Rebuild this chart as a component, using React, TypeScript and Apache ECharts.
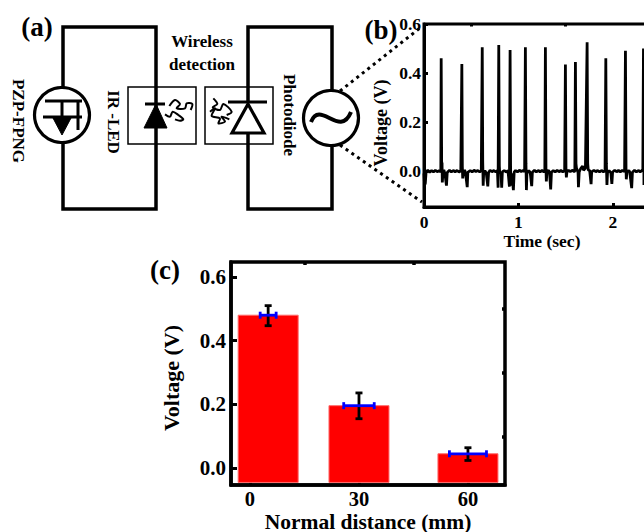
import React, { useEffect, useRef } from "react";
import * as echarts from "echarts";

const FONT = '"Liberation Serif", "Times New Roman", serif';

// Panel (b): time (s), voltage (V)
const voltageTrace: [number, number][] = [
  [0,-0.01],[0.006,-0.058],[0.014,-0.05],[0.022,-0.004],[0.04,0.003],[0.06,-0.005],[0.08,0.002],[0.1,-0.004],[0.12,0.003],[0.14,-0.003],[0.16,0.001],[0.178,-0.004],
  [0.182,0.46],[0.187,0.03],[0.191,0.035],[0.194,-0.047],[0.2,-0.01],[0.21,0.005],[0.222,-0.012],[0.238,-0.06],[0.246,-0.006],[0.27,0.003],[0.29,-0.004],[0.31,0.002],[0.33,-0.003],[0.35,0.002],[0.37,-0.004],[0.39,0.001],
  [0.401,0.437],[0.406,0.02],[0.41,-0.03],[0.416,-0.005],[0.43,0.004],[0.44,-0.008],[0.458,-0.066],[0.464,-0.006],[0.49,0.002],[0.51,-0.004],[0.53,0.003],[0.55,-0.002],[0.57,0.002],[0.59,-0.004],[0.607,0.001],
  [0.617,0.505],[0.622,0.04],[0.627,-0.06],[0.632,-0.008],[0.645,0.002],[0.66,-0.01],[0.676,-0.063],[0.684,-0.006],[0.7,0.003],[0.72,-0.003],[0.74,0.002],[0.76,-0.004],[0.778,0.001],[0.785,-0.068],
  [0.792,0.514],[0.798,0.02],[0.802,-0.01],[0.815,-0.003],[0.823,-0.068],[0.83,-0.004],[0.85,0.002],[0.87,-0.004],[0.89,0.001],[0.905,-0.064],
  [0.912,0.494],[0.918,-0.06],[0.93,-0.01],[0.947,-0.078],[0.955,-0.005],[0.97,0.002],[0.99,-0.004],[1.01,0.003],[1.03,-0.002],[1.05,0.002],[1.066,-0.003],
  [1.074,0.505],[1.08,0.03],[1.085,-0.078],[1.09,-0.01],[1.11,0.002],[1.125,-0.006],[1.141,-0.062],[1.148,-0.005],[1.17,0.003],[1.19,-0.004],[1.21,0.002],[1.23,-0.003],[1.25,0.002],[1.27,-0.003],[1.28,0],
  [1.286,0.505],[1.292,0.01],[1.296,-0.043],[1.302,-0.005],[1.32,0.003],[1.33,-0.006],[1.342,-0.075],[1.35,-0.005],[1.37,0.002],[1.39,-0.004],[1.41,0.003],[1.43,-0.003],[1.45,0.002],[1.47,-0.003],[1.49,0.001],
  [1.498,0.435],[1.504,0.01],[1.508,-0.026],[1.514,-0.004],[1.53,0.003],[1.55,-0.003],[1.57,0.003],[1.59,-0.002],[1.598,0],
  [1.604,0.445],[1.61,0.03],[1.615,0.012],[1.625,0.002],[1.632,-0.006],[1.636,-0.066],[1.644,-0.004],[1.66,0.01],[1.68,0.02],[1.69,0.003],[1.71,0.012],
  [1.728,0.525],[1.734,0.03],[1.74,0.004],[1.755,0.002],[1.77,-0.054],[1.776,-0.004],[1.8,0.003],[1.82,-0.003],[1.84,0.002],[1.86,-0.004],[1.88,0.002],[1.9,-0.003],[1.918,0.001],
  [1.926,0.46],[1.932,0.03],[1.938,-0.057],[1.944,-0.006],[1.96,0.002],[1.98,-0.008],[1.99,-0.053],[1.998,-0.004],[2.02,0.003],[2.04,-0.003],[2.06,0.002],[2.08,-0.003],[2.1,0.002],[2.125,-0.002],
  [2.134,0.491],[2.14,0.01],[2.143,-0.034],[2.15,-0.004],[2.17,0.002],[2.18,-0.005],[2.2,-0.07],[2.208,-0.005],[2.23,0.003],[2.25,-0.004],[2.27,0.002],[2.29,-0.003],[2.31,0.002],[2.318,-0.002],
  [2.325,0.5],[2.33,-0.057],[2.34,-0.003],[2.37,0.002],[2.4,-0.003],
];
const timeTicks = [0, 1, 2];
const timeMinorTicks = [0.5, 1.5];
const panelBVoltageTicks = [0, 0.2, 0.4, 0.6];
const panelBVoltageMinorTicks = [-0.1, 0.1, 0.3, 0.5];

// Panel (c)
const barPositions = [5, 30, 60];
const barVoltages = [0.48, 0.196, 0.045];
const voltageLow = [0.447, 0.155, 0.024];
const voltageHigh = [0.51, 0.236, 0.064];
const distanceError = [2.2, 4.2, 5.1];
const distanceTicks = [0, 30, 60];
const distanceMinorTicks = [15, 45];
const panelCVoltageTicks = [0, 0.2, 0.4, 0.6];
const panelCVoltageMinorTicks = [0.1, 0.3, 0.5];

const AX = (extra: any) => ({ ...extra });

export default function App() {
  const ref = useRef<HTMLDivElement>(null);
  useEffect(() => {
    const chart = echarts.init(ref.current!, undefined, { renderer: "svg" });
    const textStyle = (size: number) => ({ fontFamily: FONT, fontWeight: "bold", fontSize: size, color: "#000" });
    const mainTick = (vals: number[], len: number, w: number) => ({ show: true, inside: true, length: len, customValues: vals, lineStyle: { color: "#000", width: w } });
    const line = (x1: number, y1: number, x2: number, y2: number, w = 3.5, extra: any = {}) => ({ type: "line", shape: { x1, y1, x2, y2 }, style: { stroke: "#000", lineWidth: w, ...extra } });
    const gText = (text: string, x: number, y: number, size: number, rot = 0) => ({
      type: "text", x, y, rotation: rot, z: 10,
      style: { text, x: 0, y: 0, align: "center", verticalAlign: "middle", fontFamily: FONT, fontWeight: "bold", fontSize: size, fill: "#000" },
    });
    const poly = (points: number[][], w: number, close = false, fill: any = "none") => ({
      type: close ? "polygon" : "polyline", shape: { points }, style: { stroke: "#000", lineWidth: w, fill, lineJoin: "miter" },
    });
    const wave = (pts: number[][]) => ({
      type: "polyline",
      shape: { points: pts.map(([x, y]) => [130 + x / 3, 80 + y / 3]), smooth: 0.3 },
      style: { stroke: "#000", lineWidth: 2, fill: "none" },
    });

    const graphic = [
      // Left loop
      poly([[63, 87], [63, 27], [156, 27], [156, 209], [63, 209], [63, 143]], 3.5),
      // PZP source
      { type: "circle", shape: { cx: 62, cy: 115, r: 27.5 }, style: { stroke: "#000", lineWidth: 3.2, fill: "#fff" } },
      line(45, 101, 82, 101, 3),
      line(43, 117, 82, 117, 3),
      line(62, 101, 62, 120, 3),
      line(78, 101, 78, 130, 3),
      poly([[53, 118], [71, 118], [62, 135]], 1, true, "#000"),
      // LED box
      { type: "rect", shape: { x: 128, y: 87, width: 68, height: 57 }, style: { stroke: "#000", lineWidth: 1.5, fill: "none" } },
      line(145, 104, 165, 104, 3),
      poly([[156, 104], [144, 128], [167, 128]], 1, true, "#000"),
      wave([[118, 78], [135, 60], [150, 72], [140, 85], [165, 85], [170, 70], [187, 72], [182, 90]]),
      wave([[105, 103], [120, 110], [128, 95], [145, 105], [160, 118], [150, 122], [135, 118]]),
      // Right loop
      poly([[248, 102], [248, 27], [332, 27], [332, 91]], 3.5),
      poly([[248, 133], [248, 209], [332, 209], [332, 145]], 3.5),
      { type: "rect", shape: { x: 205, y: 87, width: 68, height: 57 }, style: { stroke: "#000", lineWidth: 1.5, fill: "none" } },
      line(228, 102, 267, 102, 3.2),
      poly([[248, 104], [232, 133], [264, 133]], 3.2, true),
      wave([[250, 55], [262, 72], [248, 82], [270, 90], [280, 72], [305, 95], [290, 105]]),
      wave([[240, 95], [255, 85], [245, 108], [270, 115], [265, 130], [285, 125], [275, 110], [298, 118]]),
      // AC source
      { type: "circle", shape: { cx: 331, cy: 118, r: 27.5 }, style: { stroke: "#000", lineWidth: 3.2, fill: "#fff" } },
      { type: "bezierCurve", shape: { x1: 311, y1: 122, cpx1: 320, cpy1: 99, cpx2: 340, cpy2: 139, x2: 351, y2: 112 }, style: { stroke: "#000", lineWidth: 4, fill: "none" } },
      // Zoom lines
      line(340, 91, 420, 28, 3, { lineDash: [3, 4] }),
      line(340, 145, 422, 202, 3, { lineDash: [3, 4] }),
      // Texts
      gText("(a)", 37, 27, 27),
      gText("(b)", 381, 30, 27),
      gText("(c)", 165, 270, 27),
      gText("Wireless", 202, 41, 17),
      gText("detection", 202, 64, 17),
      gText("PZP-FPNG", 18, 121, 17, -Math.PI / 2),
      gText("IR -LED", 113, 122, 17, -Math.PI / 2),
      gText("Photodiode", 289, 115, 17, -Math.PI / 2),
    ];

    const hiddenLine = { show: false, onZero: false };

    chart.setOption({
      animation: false,
      backgroundColor: "#fff",
      grid: [
        { left: 424, top: 24, width: 236, height: 183, show: true, borderColor: "#000", borderWidth: 3, backgroundColor: "transparent", outerBoundsMode: "none", containLabel: false },
        { left: 231, top: 262, width: 274, height: 223, show: true, borderColor: "#000", borderWidth: 3.5, backgroundColor: "transparent", outerBoundsMode: "none", containLabel: false },
      ],
      xAxis: [
        AX({ type: "value", gridIndex: 0, min: 0, max: 2.5, splitLine: { show: false },
          axisLine: { show: true, onZero: false, lineStyle: { color: "#000", width: 3 } },
          axisTick: mainTick(timeTicks, 4, 3),
          axisLabel: { ...textStyle(17.5), margin: 6, customValues: timeTicks, hideOverlap: false },
          name: "Time (sec)", nameLocation: "middle", nameGap: 25, nameMoveOverlap: false, nameTextStyle: textStyle(17.5) }),
        AX({ type: "value", gridIndex: 0, min: 0, max: 2.5, splitLine: { show: false }, axisLine: hiddenLine, axisLabel: { show: false },
          axisTick: mainTick(timeMinorTicks, 2.5, 3) }),
        AX({ type: "value", gridIndex: 1, min: -5.23, max: 70.2, splitLine: { show: false },
          axisLine: { show: true, onZero: false, lineStyle: { color: "#000", width: 3.5 } },
          axisTick: mainTick(distanceTicks, 6, 3),
          axisLabel: { ...textStyle(20.5), margin: 3, customValues: distanceTicks },
          name: "Normal distance (mm)", nameLocation: "middle", nameGap: 25.5, nameMoveOverlap: false, nameTextStyle: textStyle(21.5) }),
        AX({ type: "value", gridIndex: 1, min: -5.23, max: 70.2, splitLine: { show: false }, axisLine: hiddenLine, axisLabel: { show: false },
          axisTick: mainTick(distanceMinorTicks, 3, 3.5) }),
      ],
      yAxis: [
        AX({ type: "value", gridIndex: 0, min: -0.147, max: 0.6, splitLine: { show: false },
          axisLine: { show: true, onZero: false, lineStyle: { color: "#000", width: 3 } },
          axisTick: mainTick(panelBVoltageTicks, 4, 3),
          axisLabel: { ...textStyle(17.5), margin: 3, customValues: panelBVoltageTicks, formatter: (v: number) => v.toFixed(1) },
          name: "Voltage (V)", nameLocation: "middle", nameGap: 34, nameMoveOverlap: false, nameTextStyle: { ...textStyle(18), padding: [0, 0, 0, -15] } }),
        AX({ type: "value", gridIndex: 0, min: -0.147, max: 0.6, splitLine: { show: false }, axisLine: hiddenLine, axisLabel: { show: false },
          axisTick: mainTick(panelBVoltageMinorTicks, 2.5, 3) }),
        AX({ type: "value", gridIndex: 1, min: -0.053, max: 0.647, splitLine: { show: false },
          axisLine: { show: true, onZero: false, lineStyle: { color: "#000", width: 3.5 } },
          axisTick: mainTick(panelCVoltageTicks, 6, 3),
          axisLabel: { ...textStyle(21), margin: 5, customValues: panelCVoltageTicks, formatter: (v: number) => v.toFixed(1) },
          name: "Voltage (V)", nameLocation: "middle", nameGap: 49, nameMoveOverlap: false, nameTextStyle: { ...textStyle(22), padding: [0, 0, 0, -9] } }),
        AX({ type: "value", gridIndex: 1, min: -0.053, max: 0.647, splitLine: { show: false }, axisLine: hiddenLine, axisLabel: { show: false },
          axisTick: mainTick(panelCVoltageMinorTicks, 3, 3.5) }),
      ],
      series: [
        {
          type: "line", xAxisIndex: 0, yAxisIndex: 0, data: voltageTrace, showSymbol: false, symbol: "none",
          lineStyle: { color: "#000", width: 2.8, join: "bevel" }, clip: true, silent: true,
        },
        {
          type: "custom", xAxisIndex: 2, yAxisIndex: 2, silent: true,
          data: barPositions.map((p, i) => [p, barVoltages[i]]),
          renderItem: (_: any, api: any) => {
            const top = api.coord([api.value(0), api.value(1)]);
            const base = api.coord([api.value(0), -0.045]);
            return { type: "rect", shape: { x: top[0] - 30, y: top[1], width: 60, height: base[1] - top[1] }, style: { fill: "#ff0000", stroke: "#ff6a6a", lineWidth: 1 } };
          },
        },
        {
          type: "custom", xAxisIndex: 2, yAxisIndex: 2, silent: true, z: 4,
          data: barPositions.map((p, i) => [p, barVoltages[i], voltageLow[i], voltageHigh[i], distanceError[i]]),
          renderItem: (_: any, api: any) => {
            const x = api.value(0), y = api.value(1);
            const c = api.coord([x, y]);
            const lo = api.coord([x, api.value(2)]);
            const hi = api.coord([x, api.value(3)]);
            const l = api.coord([x - api.value(4), y]);
            const r = api.coord([x + api.value(4), y]);
            const seg = (x1: number, y1: number, x2: number, y2: number, stroke: string, w: number) => ({ type: "line", shape: { x1, y1, x2, y2 }, style: { stroke, lineWidth: w } });
            return {
              type: "group",
              children: [
                seg(c[0], lo[1], c[0], hi[1], "#000", 2.8),
                seg(c[0] - 3.5, lo[1], c[0] + 3.5, lo[1], "#000", 2.8),
                seg(c[0] - 3.5, hi[1], c[0] + 3.5, hi[1], "#000", 2.8),
                seg(l[0], c[1], r[0], c[1], "#0000ff", 2.8),
                seg(l[0], c[1] - 3.5, l[0], c[1] + 3.5, "#0000ff", 2.8),
                seg(r[0], c[1] - 3.5, r[0], c[1] + 3.5, "#0000ff", 2.8),
              ],
            };
          },
        },
      ],
      graphic,
    });
    return () => chart.dispose();
  }, []);
  return <div ref={ref} style={{ position: "fixed", left: 0, top: 0, width: 644, height: 532 }} />;
}
